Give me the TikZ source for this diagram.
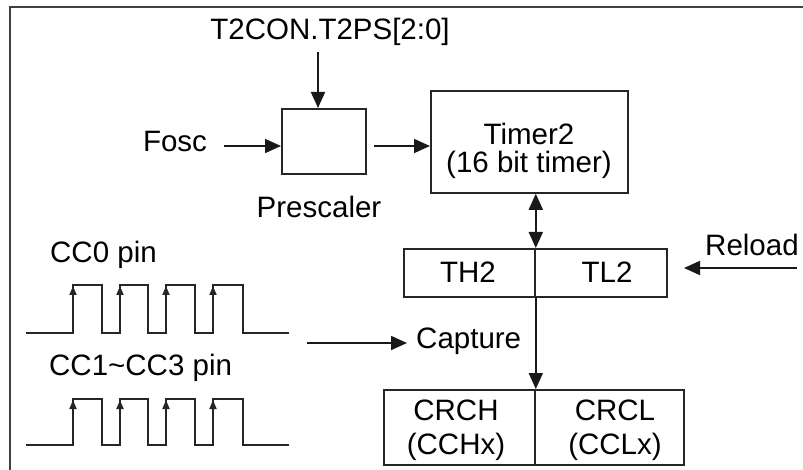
\documentclass[tikz,border=0pt]{standalone}
\usepackage{fontspec}
\setmainfont{Liberation Sans}
\usetikzlibrary{arrows.meta}
\begin{document}
\begin{tikzpicture}[x=1pt,y=-1pt,
  font=\fontsize{29.5}{35}\selectfont,
  box/.style={draw=black!85,line width=1.8pt,inner sep=0pt,anchor=north west},
  txt/.style={inner sep=0pt,anchor=base},
  arr/.style={draw=black!90,line width=1.8pt,-{Triangle[length=16pt,width=14pt]}},
  darr/.style={draw=black!90,line width=1.8pt,{Triangle[length=16pt,width=14pt]}-{Triangle[length=16pt,width=14pt]}},
  wave/.style={draw=black!85,line width=1.8pt},
  warr/.style={draw=black!85,line width=1.8pt,-{Triangle[length=9pt,width=7pt]}}]
\useasboundingbox (0,0) rectangle (803,470);
\fill[white] (0,0) rectangle (803,470);
% frame
\draw[line width=2.5pt,black!75] (10,470) -- (10,7) -- (803,7);
% boxes
\node[box,minimum width=84pt,minimum height=65pt] (pre) at (281,108) {};
\node[box,minimum width=197pt,minimum height=102pt] (tmr) at (430,90) {};
\node[box,minimum width=131pt,minimum height=48pt] (th) at (403,248) {};
\node[box,minimum width=132pt,minimum height=48pt] (tl) at (534,248) {};
\node[box,minimum width=151pt,minimum height=75pt] (crh) at (383,389) {};
\node[box,minimum width=149pt,minimum height=75pt] (crl) at (534,389) {};
% texts
\node[txt] (t2con) at (330,40) {T2CON.T2PS[2:0]};
\node[txt] (fosc) at (175,152) {Fosc};
\node[txt] (prel) at (319,218) {Prescaler};
\node[txt] (tmr1) at (529,145) {Timer2};
\node[txt] (tmr2) at (529,173) {(16 bit timer)};
\node[txt] (th2) at (468,283) {TH2};
\node[txt] (tl2) at (607,283) {TL2};
\node[txt,anchor=base west] (rel) at (705,256) {Reload};
\node[txt,anchor=base west] (cap) at (416,348) {Capture};
\node[txt] (crch1) at (456,420) {CRCH};
\node[txt] (crch2) at (456,454) {(CCHx)};
\node[txt] (crcl1) at (615,420) {CRCL};
\node[txt] (crcl2) at (615,454) {(CCLx)};
\node[txt,anchor=base west] (cc0) at (50,263) {CC0 pin};
\node[txt,anchor=base west] (cc1) at (49,375) {CC1\textasciitilde CC3 pin};
% connectors
\coordinate (a1) at (318,52);
\draw[arr] (a1) -- (a1 |- pre.north);
\coordinate (a2) at (224,146);
\draw[arr] (a2) -- (a2 -| pre.west);
\coordinate (a3) at (374,146);
\draw[arr] (a3) -- (a3 -| tmr.west);
\draw[darr] (tmr.south -| th.east) -- (th.north east);
\draw[arr] (th.south east) -- (crh.north east);
\coordinate (a4) at (797,268);
\coordinate (a4t) at (684,268);
\draw[arr] (a4) -- (a4t);
\coordinate (a5) at (307,343);
\coordinate (a5t) at (407,343);
\draw[arr] (a5) -- (a5t);
% waveforms
\foreach \yb/\yh in {333/285, 445/399} {
  \draw[wave] (26,\yb) -- (73,\yb) -- (73,\yh) -- (102,\yh) -- (102,\yb) -- (120,\yb) -- (120,\yh) -- (148,\yh) -- (148,\yb) -- (166,\yb) -- (166,\yh) -- (195,\yh) -- (195,\yb) -- (213,\yb) -- (213,\yh) -- (243,\yh) -- (243,\yb) -- (289,\yb);
  \foreach \xr in {73,120,166,213} {
    \draw[warr] (\xr,\yh+14) -- (\xr,\yh+1);
  }
}
\end{tikzpicture}
\end{document}
